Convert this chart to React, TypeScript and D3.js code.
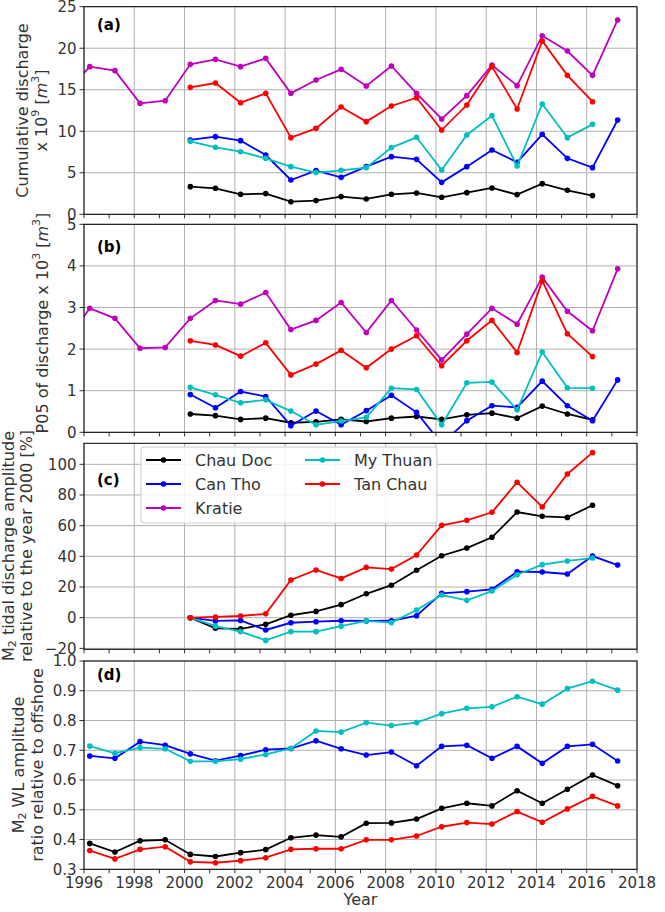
import React from 'react';
import * as d3 from 'd3';

const N = null;
const years = [1995, 1996, 1997, 1998, 1999, 2000, 2001, 2002, 2003, 2004, 2005, 2006, 2007, 2008, 2009, 2010, 2011, 2012, 2013, 2014, 2015, 2016, 2017];
const stations = ['Chau Doc', 'Can Tho', 'Kratie', 'My Thuan', 'Tan Chau'];
const colors = ['#000000', '#0000ff', '#bf00bf', '#00bfbf', '#ff0000'];

// (a) cumulative discharge x 10^9 m3
const chauDocA = [N, N, N, N, N, 3.33, 3.13, 2.41, 2.49, 1.52, 1.65, 2.13, 1.85, 2.41, 2.57, 2.05, 2.61, 3.17, 2.37, 3.69, 2.89, 2.25, N];
const canThoA = [N, N, N, N, N, 8.95, 9.35, 8.87, 7.14, 4.13, 5.26, 4.45, 5.74, 6.94, 6.62, 3.85, 5.74, 7.74, 6.26, 9.63, 6.74, 5.62, 11.36];
const kratieA = [14.5, 17.78, 17.3, 13.36, 13.68, 18.06, 18.66, 17.78, 18.78, 14.57, 16.17, 17.46, 15.45, 17.86, 14.57, 11.48, 14.29, 17.98, 15.49, 21.51, 19.66, 16.73, 23.4];
const myThuanA = [N, N, N, N, N, 8.79, 8.07, 7.54, 6.74, 5.74, 5.02, 5.3, 5.62, 8.03, 9.27, 5.34, 9.55, 11.88, 5.82, 13.28, 9.23, 10.83, N];
const tanChauA = [N, N, N, N, N, 15.29, 15.81, 13.44, 14.57, 9.23, 10.35, 12.92, 11.16, 13.04, 14.04, 10.15, 13.16, 17.78, 12.68, 20.87, 16.73, 13.56, N];

// (b) P05 of discharge x 10^3 m3
const chauDocB = [N, N, N, N, N, 0.44, 0.40, 0.31, 0.34, 0.23, 0.25, 0.31, 0.26, 0.34, 0.38, 0.31, 0.42, 0.46, 0.34, 0.63, 0.44, 0.30, N];
const canThoB = [N, N, N, N, N, 0.91, 0.59, 0.98, 0.86, 0.16, 0.51, 0.18, 0.52, 0.89, 0.48, -0.28, 0.28, 0.64, 0.60, 1.23, 0.64, 0.28, 1.26];
const kratieB = [2.15, 2.98, 2.74, 2.02, 2.04, 2.74, 3.17, 3.08, 3.36, 2.47, 2.69, 3.12, 2.40, 3.17, 2.46, 1.74, 2.36, 2.98, 2.60, 3.73, 2.91, 2.44, 3.93];
const myThuanB = [N, N, N, N, N, 1.08, 0.90, 0.71, 0.78, 0.51, 0.18, 0.27, 0.36, 1.06, 1.03, 0.18, 1.19, 1.21, 0.54, 1.93, 1.07, 1.06, N];
const tanChauB = [N, N, N, N, N, 2.20, 2.10, 1.83, 2.15, 1.38, 1.64, 1.97, 1.55, 2.0, 2.32, 1.60, 2.20, 2.69, 1.92, 3.64, 2.37, 1.82, N];

// (c) M2 tidal discharge amplitude relative to 2000 [%]
const chauDocC = [N, N, N, N, N, 0, -6.9, -7.3, -4.3, 1.6, 4.1, 8.5, 15.6, 21.2, 30.9, 40.4, 45.4, 52.4, 68.9, 66.1, 65.4, 73.3, N];
const canThoC = [N, N, N, N, N, 0, -2.1, -1.8, -8, -3.3, -2.6, -2, -2.1, -2, 1.3, 15.9, 17, 18.5, 30, 29.8, 28.5, 40.2, 34.3];
const myThuanC = [N, N, N, N, N, 0, -5.5, -9.1, -14.8, -9.1, -9.1, -5.5, -2.1, -3.2, 5, 14.8, 11.3, 17.4, 28, 34.6, 37, 38.9, N];
const tanChauC = [N, N, N, N, N, 0, 0.5, 1.1, 2.5, 24.6, 31.1, 25.6, 32.8, 31.7, 40.9, 60.2, 63.5, 68.7, 88.3, 72.2, 93.7, 107.6, N];

// (d) M2 WL amplitude ratio relative to offshore
const chauDocD = [N, 0.387, 0.358, 0.396, 0.399, 0.35, 0.343, 0.356, 0.366, 0.406, 0.415, 0.409, 0.455, 0.456, 0.469, 0.505, 0.522, 0.513, 0.564, 0.522, 0.569, 0.617, 0.581];
const canThoD = [N, 0.681, 0.673, 0.729, 0.717, 0.688, 0.665, 0.682, 0.702, 0.706, 0.732, 0.705, 0.684, 0.694, 0.648, 0.713, 0.717, 0.673, 0.713, 0.656, 0.713, 0.72, 0.664];
const myThuanD = [N, 0.714, 0.69, 0.709, 0.705, 0.663, 0.663, 0.67, 0.686, 0.706, 0.765, 0.761, 0.793, 0.783, 0.793, 0.823, 0.841, 0.846, 0.88, 0.855, 0.907, 0.932, 0.902];
const tanChauD = [N, 0.363, 0.335, 0.367, 0.376, 0.325, 0.322, 0.329, 0.339, 0.367, 0.369, 0.369, 0.399, 0.399, 0.412, 0.443, 0.457, 0.452, 0.494, 0.458, 0.503, 0.545, 0.513];

const xTicks = [1996, 1998, 2000, 2002, 2004, 2006, 2008, 2010, 2012, 2014, 2016, 2018];
const ticksA = [0, 5, 10, 15, 20, 25];
const ticksB = [0, 1, 2, 3, 4, 5];
const ticksC = [-20, 0, 20, 40, 60, 80, 100];
const ticksD = [0.3, 0.4, 0.5, 0.6, 0.7, 0.8, 0.9, 1.0];

const W = 665;
const H = 912;
const X0 = 84;
const X1 = 637;
const xOff = 0.23;
const font = 'DejaVu Sans, Verdana, sans-serif';

const x = d3.scaleLinear().domain([1996, 2018]).range([X0, X1]);

type Series = { idx: number; values: (number | null)[] };
type PanelDef = {
  id: string;
  top: number;
  bottom: number;
  domain: [number, number];
  ticks: number[];
  fmt: (v: number) => string;
  series: Series[];
  letter: string;
  letterY: number;
};

const panels: PanelDef[] = [
  {
    id: 'a', top: 6.7, bottom: 214.3, domain: [0, 25], ticks: ticksA, fmt: d3.format('d'), letter: '(a)', letterY: 30,
    series: [
      { idx: 0, values: chauDocA }, { idx: 1, values: canThoA }, { idx: 2, values: kratieA },
      { idx: 3, values: myThuanA }, { idx: 4, values: tanChauA },
    ],
  },
  {
    id: 'b', top: 224.3, bottom: 432.3, domain: [0, 5], ticks: ticksB, fmt: d3.format('d'), letter: '(b)', letterY: 252,
    series: [
      { idx: 0, values: chauDocB }, { idx: 1, values: canThoB }, { idx: 2, values: kratieB },
      { idx: 3, values: myThuanB }, { idx: 4, values: tanChauB },
    ],
  },
  {
    id: 'c', top: 443.3, bottom: 649.3, domain: [-20.6, 113.7], ticks: ticksC, fmt: d3.format('d'), letter: '(c)', letterY: 485,
    series: [
      { idx: 0, values: chauDocC }, { idx: 1, values: canThoC },
      { idx: 3, values: myThuanC }, { idx: 4, values: tanChauC },
    ],
  },
  {
    id: 'd', top: 661, bottom: 869.3, domain: [0.3, 1.0], ticks: ticksD, fmt: d3.format('.1f'), letter: '(d)', letterY: 680,
    series: [
      { idx: 0, values: chauDocD }, { idx: 1, values: canThoD },
      { idx: 3, values: myThuanD }, { idx: 4, values: tanChauD },
    ],
  },
];

const minorYears = d3.range(1996, 2019);

function Panel({ p, last }: { p: PanelDef; last: boolean }) {
  const y = d3.scaleLinear().domain(p.domain).range([p.bottom, p.top]);
  const line = d3
    .line<{ yr: number; v: number | null }>()
    .defined((d) => d.v != null)
    .x((d) => x(d.yr + xOff))
    .y((d) => y(d.v as number));
  return (
    <g>
      <clipPath id={`clip-${p.id}`}>
        <rect x={X0} y={p.top} width={X1 - X0} height={p.bottom - p.top} />
      </clipPath>
      <rect x={X0} y={p.top} width={X1 - X0} height={p.bottom - p.top} fill="#fff" />
      {xTicks.map((t) => (
        <line key={`gx${t}`} x1={x(t)} x2={x(t)} y1={p.top} y2={p.bottom} stroke="#b0b0b0" strokeWidth={1} />
      ))}
      {p.ticks.map((t) => (
        <line key={`gy${t}`} x1={X0} x2={X1} y1={y(t)} y2={y(t)} stroke="#b0b0b0" strokeWidth={1} />
      ))}
      <g clipPath={`url(#clip-${p.id})`}>
        {p.series.map((s) => {
          const pts = years.map((yr, i) => ({ yr, v: s.values[i] }));
          return (
            <g key={s.idx}>
              <path d={line(pts) || ''} fill="none" stroke={colors[s.idx]} strokeWidth={1.8} />
              {pts
                .filter((d) => d.v != null)
                .map((d) => (
                  <circle key={d.yr} cx={x(d.yr + xOff)} cy={y(d.v as number)} r={2.8} fill={colors[s.idx]} />
                ))}
            </g>
          );
        })}
      </g>
      <rect x={X0} y={p.top} width={X1 - X0} height={p.bottom - p.top} fill="none" stroke="#000" strokeWidth={1} />
      {minorYears.map((t) => (
        <line key={`tx${t}`} x1={x(t)} x2={x(t)} y1={p.bottom} y2={p.bottom + 4} stroke="#000" strokeWidth={0.8} />
      ))}
      {p.ticks.map((t) => (
        <g key={`ty${t}`}>
          <line x1={X0 - 4.5} x2={X0} y1={y(t)} y2={y(t)} stroke="#000" strokeWidth={0.8} />
          <text x={X0 - 7.5} y={y(t)} dy="0.36em" textAnchor="end" fontSize={15} fill="#333">
            {p.fmt(t)}
          </text>
        </g>
      ))}
      {last &&
        xTicks.map((t) => (
          <text key={`lx${t}`} x={x(t)} y={p.bottom + 19} textAnchor="middle" fontSize={15} fill="#333">
            {t}
          </text>
        ))}
      <text x={97} y={p.letterY} fontSize={15} fontWeight="bold" fill="#000">
        {p.letter}
      </text>
    </g>
  );
}

function RotLabel({ cx, cy, children }: { cx: number; cy: number; children: React.ReactNode }) {
  return (
    <text
      transform={`translate(${cx},${cy}) rotate(-90)`}
      textAnchor="middle"
      dominantBaseline="central"
      fontSize={16}
      fill="#333"
    >
      {children}
    </text>
  );
}

function Legend() {
  const bx = 141;
  const by = 447;
  const rows = [460, 484, 508];
  const entries = [
    { idx: 0, col: 0, row: 0 },
    { idx: 1, col: 0, row: 1 },
    { idx: 2, col: 0, row: 2 },
    { idx: 3, col: 1, row: 0 },
    { idx: 4, col: 1, row: 1 },
  ];
  const colX = [146, 305];
  return (
    <g>
      <rect x={bx} y={by} width={296} height={76} rx={3} fill="#fff" fillOpacity={0.85} stroke="#cccccc" strokeWidth={1} />
      {entries.map((e) => {
        const lx = colX[e.col];
        const ly = rows[e.row];
        return (
          <g key={e.idx}>
            <line x1={lx} x2={lx + 35} y1={ly} y2={ly} stroke={colors[e.idx]} strokeWidth={1.8} />
            <circle cx={lx + 17.5} cy={ly} r={2.8} fill={colors[e.idx]} />
            <text x={lx + 49} y={ly} dy="0.36em" fontSize={16} fill="#333">
              {stations[e.idx]}
            </text>
          </g>
        );
      })}
    </g>
  );
}

export default function App() {
  return (
    <svg
      width={W}
      height={H}
      style={{ position: 'absolute', left: 0, top: 0, background: '#fff' }}
      fontFamily={font}
    >
      <rect x={0} y={0} width={W} height={H} fill="#fff" />
      {panels.map((p, i) => (
        <Panel key={p.id} p={p} last={i === panels.length - 1} />
      ))}
      <Legend />

      <RotLabel cx={22} cy={110.5}>Cumulative discharge</RotLabel>
      <RotLabel cx={41} cy={110.5}>
        x 10<tspan dy="-6" fontSize={11}>9</tspan>
        <tspan dy="6"> [</tspan>
        <tspan fontStyle="italic">m</tspan>
        <tspan dy="-6" fontSize={11}>3</tspan>
        <tspan dy="6">]</tspan>
      </RotLabel>

      <RotLabel cx={42} cy={323}>
        P05 of discharge x 10<tspan dy="-6" fontSize={11}>3</tspan>
        <tspan dy="6"> [</tspan>
        <tspan fontStyle="italic">m</tspan>
        <tspan dy="-6" fontSize={11}>3</tspan>
        <tspan dy="6">]</tspan>
      </RotLabel>

      <RotLabel cx={8} cy={546}>
        M<tspan dy="4" fontSize={11}>2</tspan>
        <tspan dy="-4"> tidal discharge amplitude</tspan>
      </RotLabel>
      <RotLabel cx={26} cy={546}>relative to the year 2000 [%]</RotLabel>

      <RotLabel cx={18} cy={765}>
        M<tspan dy="4" fontSize={11}>2</tspan>
        <tspan dy="-4"> WL amplitude</tspan>
      </RotLabel>
      <RotLabel cx={37} cy={765}>ratio relative to offshore</RotLabel>

      <text x={x(2007)} y={905} textAnchor="middle" fontSize={16} fill="#333">
        Year
      </text>
    </svg>
  );
}
